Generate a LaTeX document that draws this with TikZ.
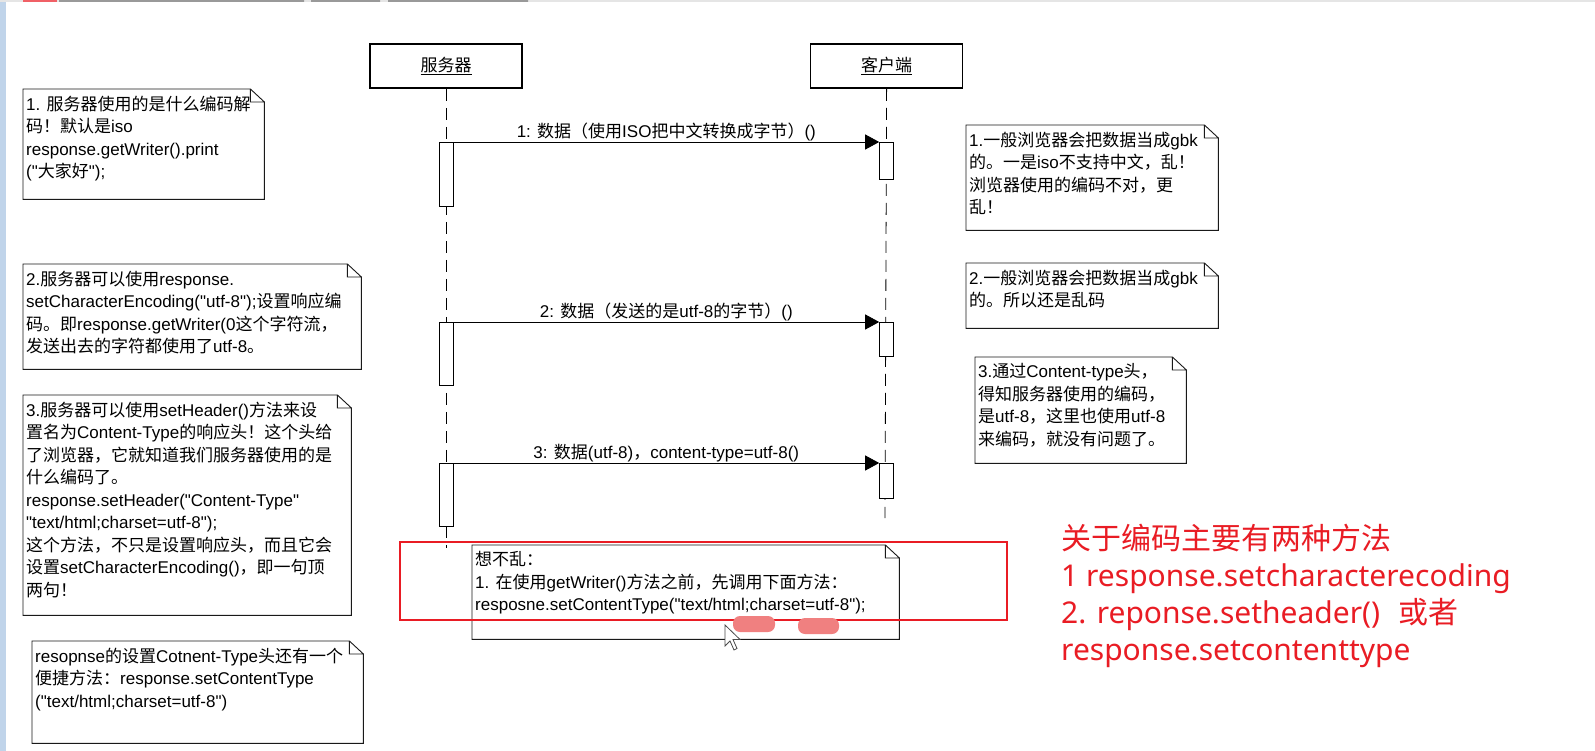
\documentclass[tikz,border=0pt]{standalone}
\usepackage{fontspec}
\setmainfont{Liberation Sans}
\newfontfamily\cjkfont{Noto Sans CJK SC}
\newfontfamily\redfont{Noto Sans}
\usetikzlibrary{positioning,arrows.meta}
\usepackage{xcolor}
\definecolor{markred}{RGB}{233,28,36}
\definecolor{blobred}{RGB}{240,128,128}
\definecolor{barblue}{RGB}{192,212,234}
% plain Liberation Sans, straight quotes kept
\font\latnote="Liberation Sans" at 17pt
\newcommand\notefont{\fontsize{17}{22.5}\selectfont\latnote}

% switch to the CJK font for Chinese characters
\XeTeXinterchartokenstate=1
\newXeTeXintercharclass\cjkclass
\newcount\cjkcnt
\newcommand\setcjkrange[3]{%
  \cjkcnt=#1 \loop\ifnum\cjkcnt<#2 \XeTeXcharclass\cjkcnt=#3 \advance\cjkcnt by 1 \repeat}
\setcjkrange{0}{"10000}{0}
\setcjkrange{"3000}{"3040}{\cjkclass}
\setcjkrange{"4E00}{"A000}{\cjkclass}
\setcjkrange{"FF00}{"FFF0}{\cjkclass}
\XeTeXinterchartoks 0 \cjkclass = {\begingroup\cjkfont}
\XeTeXinterchartoks 4095 \cjkclass = {\begingroup\cjkfont}
\XeTeXinterchartoks \cjkclass 0 = {\endgroup}
\XeTeXinterchartoks \cjkclass 4095 = {\endgroup}

\tikzset{
  >=Triangle,
  every node/.style={font=\notefont},
}

\begin{document}
\begin{tikzpicture}[
  x=1pt,y=-1pt,
  obj/.style={draw, line width=1.6pt, minimum width=152pt, minimum height=44pt},
  act/.style={draw, fill=white, line width=0.8pt, minimum width=14pt, inner sep=0pt, anchor=north},
  life/.style={dash pattern=on 12pt off 7pt, line width=0.8pt},
  msg/.style={-{Triangle[length=14pt,width=15pt]}, line width=0.8pt},
  mlabel/.style={above, inner sep=1pt},
  note/.style={anchor=north west, inner sep=0pt},
  ntext/.style={anchor=north west, align=left, inner xsep=3pt, inner ysep=6.5pt},
  noteline/.style={draw=black!90, line width=0.9pt},
  redtxt/.style={anchor=north west, align=left, inner sep=0pt, text=markred,
    font=\redfont\fontsize{30}{37}\selectfont},
]
\useasboundingbox (0,0) rectangle (1595,751);
\fill[white] (0,0) rectangle (1595,751);
\fill[barblue] (0,0) rectangle (6,751);
\fill[black!10] (0,0) rectangle (1595,2);
\fill[markred!70] (23,0) rectangle (57,2.5);
\fill[black!40] (59,0) rectangle (304,2) (311,0) rectangle (380,2) (388,0) rectangle (528,2);

% lifelines
\node[obj] (srv) at (446,66) {\underline{服务器}};
\node[obj, right=287pt of srv] (cli) {\underline{客户端}};
\coordinate (srvend) at (446,548);
\coordinate (cliend) at (885,518);
\draw[life] (srv.south) -- (srvend);
\draw[life] (cli.south) -- (cliend);

% activations
\node[act, minimum height=64pt] (sa1) at (srv |- 0,142) {};
\node[act, minimum height=37pt] (ca1) at (cli |- 0,142) {};
\node[act, minimum height=63pt] (sa2) at (srv |- 0,322) {};
\node[act, minimum height=34pt] (ca2) at (cli |- 0,322) {};
\node[act, minimum height=63pt] (sa3) at (srv |- 0,463) {};
\node[act, minimum height=35pt] (ca3) at (cli |- 0,463) {};

% messages
\draw[msg] (sa1.north east) -- node[mlabel] (m1) {1: 数据（使用ISO把中文转换成字节）()} (ca1.north west);
\draw[msg] (sa2.north east) -- node[mlabel] (m2) {2: 数据（发送的是utf-8的字节）()} (ca2.north west);
\draw[msg] (sa3.north east) -- node[mlabel] (m3) {3: 数据(utf-8)，content-type=utf-8()} (ca3.north west);

% notes
\node[note, minimum width=241pt, minimum height=110pt] (nL1) at (23,89) {};
\node[ntext] (tL1) at (nL1.north west) {1. 服务器使用的是什么编码解\\码！默认是iso\\response.getWriter().print\\("大家好");};
\node[note, minimum width=338pt, minimum height=105pt] (nL2) at (23,264) {};
\node[ntext] (tL2) at (nL2.north west) {2.服务器可以使用response.\\setCharacterEncoding("utf-8");设置响应编\\码。即response.getWriter(0这个字符流，\\发送出去的字符都使用了utf-8。};
\node[note, minimum width=328pt, minimum height=220pt] (nL3) at (23,395) {};
\node[ntext] (tL3) at (nL3.north west) {3.服务器可以使用setHeader()方法来设\\置名为Content-Type的响应头！这个头给\\了浏览器，它就知道我们服务器使用的是\\什么编码了。\\response.setHeader("Content-Type"\\"text/html;charset=utf-8");\\这个方法，不只是设置响应头，而且它会\\设置setCharacterEncoding()，即一句顶\\两句！};
\node[note, minimum width=331pt, minimum height=102pt] (nL4) at (32,641) {};
\node[ntext] (tL4) at (nL4.north west) {resopnse的设置Cotnent-Type头还有一个\\便捷方法：response.setContentType\\("text/html;charset=utf-8")};
\node[note, minimum width=252pt, minimum height=105pt] (nR1) at (966,125) {};
\node[ntext] (tR1) at (nR1.north west) {1.一般浏览器会把数据当成gbk\\的。一是iso不支持中文，乱！\\浏览器使用的编码不对，更\\乱！};
\node[note, minimum width=252pt, minimum height=65pt] (nR2) at (966,263) {};
\node[ntext] (tR2) at (nR2.north west) {2.一般浏览器会把数据当成gbk\\的。所以还是乱码};
\node[note, minimum width=211pt, minimum height=106pt] (nR3) at (975,357) {};
\node[ntext] (tR3) at (nR3.north west) {3.通过Content-type头，\\得知服务器使用的编码，\\是utf-8，这里也使用utf-8\\来编码，就没有问题了。};
\node[note, minimum width=427pt, minimum height=94pt] (nC) at (472,545) {};
\node[ntext] (tC) at (nC.north west) {想不乱：\\1. 在使用getWriter()方法之前，先调用下面方法：\\resposne.setContentType("text/html;charset=utf-8");};

\foreach \n in {nL1,nL2,nL3,nL4,nR1,nR2,nR3,nC}
  \draw[noteline] (\n.north west) -- ([xshift=-14pt]\n.north east) -- ([yshift=-13pt]\n.north east)
    -- (\n.south east) -- (\n.south west) -- cycle
    ([xshift=-14pt]\n.north east) |- ([yshift=-13pt]\n.north east);

% highlight
\draw[markred, line width=2pt] (400,542) rectangle (1007,620);
\fill[blobred, rounded corners=7pt] (733,616) rectangle (775,632);
\fill[blobred, rounded corners=7pt] (798,618) rectangle (839,634);
\filldraw[fill=white, draw=black!70, line width=0.8pt] (725,625) -- ++(0,21) -- ++(5,-5)
  -- ++(4,9) -- ++(3,-1.5) -- ++(-4,-9) -- ++(7,0) -- cycle;

\node[redtxt] (sum) at (1061,524) {关于编码主要有两种方法\\1 response.setcharacterecoding\\2. reponse.setheader()\hspace{18pt}或者\\response.setcontenttype};
\end{tikzpicture}
\end{document}
